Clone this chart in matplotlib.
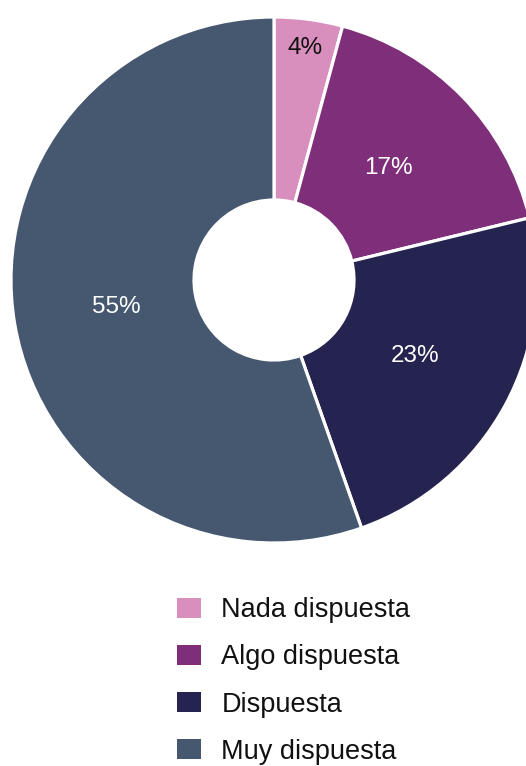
import matplotlib
matplotlib.use("Agg")
import matplotlib.pyplot as plt
import numpy as np

plt.rcParams["font.family"] = ["Liberation Sans", "DejaVu Sans"]

categories = ["Nada dispuesta", "Algo dispuesta", "Dispuesta", "Muy dispuesta"]
values = [4.2, 17.0, 23.4, 55.4]
colors = ["#d88fbd", "#7f2e7a", "#252350", "#465870"]
label_colors = ["#111111", "white", "white", "white"]

W, H = 526, 766
fig = plt.figure(figsize=(W / 100, H / 100), dpi=100)
ax = fig.add_axes([0, 0, 1, 1])

cx, cy = 274, H - 280
R = 263
hole = 80

wedges, _ = ax.pie(
    values,
    colors=colors,
    startangle=90,
    counterclock=False,
    radius=R,
    center=(cx, cy),
    wedgeprops=dict(width=R - hole, edgecolor="white", linewidth=2.3),
)

for w, v, tc in zip(wedges, values, label_colors):
    ang = np.deg2rad((w.theta1 + w.theta2) / 2)
    frac = 0.89 if v < 8 else 0.61
    ax.text(cx + frac * R * np.cos(ang), cy + frac * R * np.sin(ang),
            f"{round(v)}%", color=tc, fontsize=17.5, ha="center", va="center")

ax.set_xlim(0, W)
ax.set_ylim(0, H)
ax.set_aspect("equal")
ax.axis("off")

fs = 19.5
leg = fig.legend(
    wedges, categories,
    loc="upper left",
    bbox_to_anchor=(153 / W, 1 - 573 / H),
    frameon=False,
    fontsize=fs,
    handlelength=0.88,
    handleheight=0.74,
    handletextpad=0.74,
    labelspacing=0.78,
)
for t in leg.get_texts():
    t.set_color("#111111")
for h in leg.legend_handles:
    h.set_edgecolor("none")

fig.savefig("out.png", dpi=100)
